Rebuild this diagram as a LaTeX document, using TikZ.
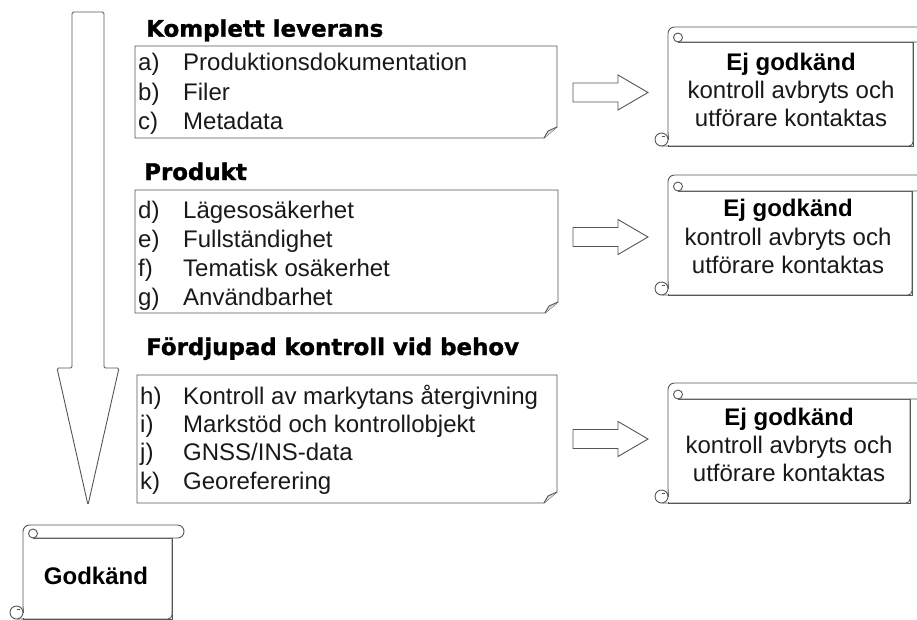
\documentclass[tikz,border=0pt]{standalone}
\usepackage{fontspec}
\setmainfont{Liberation Sans}
\newfontfamily\titlefont[BoldFeatures={FakeBold=1.3}]{DejaVu Sans}
\definecolor{lncol}{RGB}{85,85,85}
\definecolor{txtcol}{RGB}{25,25,25}
\tikzset{
  ln/.style={draw=lncol, line width=0.9pt},
  item/.style={anchor=base west, inner sep=0pt, text=txtcol, font=\fontsize{24}{28}\selectfont},
  ttl/.style={anchor=base west, inner sep=0pt, text=black, font=\titlefont\bfseries\fontsize{22.9}{26}\selectfont},
  stxt/.style={anchor=base, inner sep=0pt, text=txtcol, font=\fontsize{24}{28}\selectfont},
  sbold/.style={anchor=base, inner sep=0pt, text=black, font=\bfseries\fontsize{24}{28}\selectfont},
}
% folded-corner note box: L T R B
\newcommand\mynotebox[4]{%
  \draw[ln, fill=white] (#1,#2) -- (#3,#2) -- (#3,#4-11) -- (#3-13,#4) -- (#1,#4) -- cycle;
  \draw[ln, fill=gray!25] (#3,#4-11) -- (#3-9,#4-7) -- (#3-13,#4);
}
% scroll: BL BR T B rollheight rollend
\newcommand\myscroll[6]{%
  \draw[ln, fill=white] (#1,#3+#5) rectangle (#2,#4);
  \draw[ln, fill=white, rounded corners=6.5pt] (#1,#4-7) -- (#1,#3) -- (#6,#3) -- (#6,#3+#5) -- (#1+10,#3+#5);
  \draw[ln, fill=white] (#1+10,#3+#5-4.5) circle[radius=4.5pt];
  \draw[draw=white, line width=1.2pt] (#1,#4-0.6) -- (#1,#4-6.5);
  \draw[ln, rounded corners=4pt] (#2,#3+#5) -- (#2,#4) -- (#1-6.5,#4);
  \draw[ln, fill=white] (#1-6.5,#4-6.5) circle[radius=6.5pt];
  \draw[ln] (#1-6.5,#4-6.5) ++(0,-3) -- ++(3.5,0);
}
% right block arrow: x0 ycenter
\newcommand\myblockarrow[2]{%
  \draw[ln, fill=white] (#1,#2-9.5) -- (#1+45,#2-9.5) -- (#1+45,#2-17.5) -- (#1+75,#2)
    -- (#1+45,#2+17.5) -- (#1+45,#2+9.5) -- (#1,#2+9.5) -- cycle;
}
\begin{document}
\begin{tikzpicture}[x=1pt, y=-1pt]
\useasboundingbox (0,0) rectangle (917,619);
\fill[white] (0,0) rectangle (917,619);
\begin{scope}
\clip (0,0) rectangle (917,619);

% big down arrow
\draw[ln, fill=white, rounded corners=1.5pt] (72,12) -- (104,12) -- (104,368) -- (119,368)
  -- (88,505) -- (57,368) -- (72,368) -- cycle;

% boxes
\mynotebox{135}{46}{557}{138}
\mynotebox{135}{190}{558}{313}
\mynotebox{137}{375}{557}{503}

% titles
\node[ttl] (t1) at (146,36.7) {Komplett leverans};
\node[ttl] (t2) at (144,180) {Produkt};
\node[ttl] (t3) at (146,355) {Fördjupad kontroll vid behov};

% box 1 items
\node[item] (la) at (138,70.5) {a)};  \node[item] (ia) at (183,70.5) {Produktionsdokumentation};
\node[item] (lb) at (138,100) {b)};   \node[item] (ib) at (183,100) {Filer};
\node[item] (lc) at (138,129.5) {c)}; \node[item] (ic) at (183,129.5) {Metadata};

% box 2 items
\node[item] (ld) at (138,218) {d)}; \node[item] (id) at (183,218) {Lägesosäkerhet};
\node[item] (le) at (138,247) {e)}; \node[item] (ie) at (183,247) {Fullständighet};
\node[item] (lf) at (138,276) {f)}; \node[item] (if) at (183,276) {Tematisk osäkerhet};
\node[item] (lg) at (138,305) {g)}; \node[item] (ig) at (183,305) {Användbarhet};

% box 3 items
\node[item] (lh) at (140,404) {h)}; \node[item] (ih) at (183,404) {Kontroll av markytans återgivning};
\node[item] (li) at (140,432) {i)}; \node[item] (ii) at (183,432) {Markstöd och kontrollobjekt};
\node[item] (lj) at (140,460) {j)}; \node[item] (ij) at (183,460) {GNSS/INS-data};
\node[item] (lk) at (140,489) {k)}; \node[item] (ik) at (183,489) {Georeferering};

% block arrows
\myblockarrow{573}{92.5}
\myblockarrow{573}{237}
\myblockarrow{573}{439}

% scrolls
\myscroll{668}{913}{27}{146}{15}{935}
\myscroll{668}{912}{175}{295}{16}{935}
\myscroll{668}{910}{383}{503}{16}{935}
\myscroll{23}{172}{525}{619}{13}{184}

% scroll texts
\node[sbold] (e1) at (791,70) {Ej godkänd};
\node[stxt] (k1) at (791,98) {kontroll avbryts och};
\node[stxt] (u1) at (791,126.5) {utförare kontaktas};

\node[sbold] (e2) at (788,216.7) {Ej godkänd};
\node[stxt] (k2) at (788,245.5) {kontroll avbryts och};
\node[stxt] (u2) at (788,273.5) {utförare kontaktas};

\node[sbold] (e3) at (789,425) {Ej godkänd};
\node[stxt] (k3) at (789,453.5) {kontroll avbryts och};
\node[stxt] (u3) at (789,481.7) {utförare kontaktas};

\node[sbold] (g) at (96,584) {Godkänd};
\end{scope}
\end{tikzpicture}
\end{document}
